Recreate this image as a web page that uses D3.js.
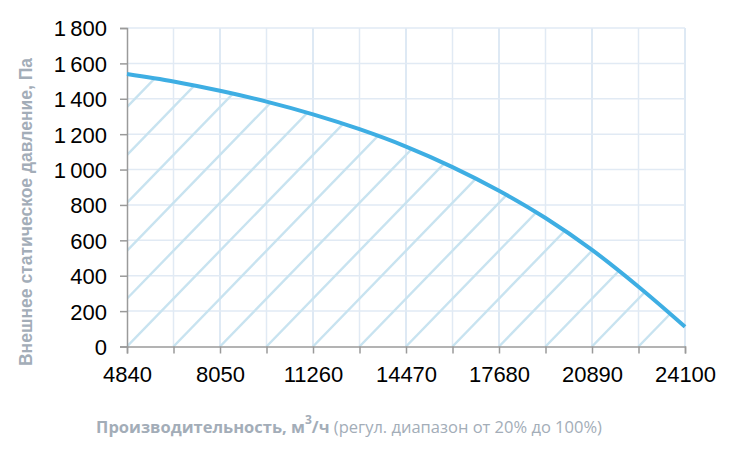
<!DOCTYPE html>
<html>
<head>
<meta charset="utf-8">
<script src="https://cdn.jsdelivr.net/npm/d3@7"></script>
<style>
  body { margin: 0; background: #fff; }
  svg { display: block; }
</style>
</head>
<body>
<div id="chart"></div>
<script>
// flow steps, m3/h
const flowTicks = [4840, 6445, 8050, 9655, 11260, 12865, 14470, 16075, 17680, 19285, 20890, 22495, 24100];
const flowLabels = [4840, 8050, 11260, 14470, 17680, 20890, 24100];
// external static pressure, Pa
const pressure = [1540, 1498, 1445, 1384, 1312, 1228, 1130, 1014, 880, 726, 546, 338, 112];
const pressureTicks = [0, 200, 400, 600, 800, 1000, 1200, 1400, 1600, 1800];

const W = 730, H = 456;
const mLeft = 127, mRight = 685, mTop = 28, mBottom = 346.5;

const svg = d3.select("#chart").append("svg")
    .attr("width", W)
    .attr("height", H);

const x = d3.scaleLinear().domain([4840, 24100]).range([mLeft, mRight]);
const y = d3.scaleLinear().domain([0, 1800]).range([mBottom, mTop]);

const fmt = d3.formatLocale({decimal: ",", thousands: "\u2009", grouping: [3], currency: ["", ""]}).format(",d");

// grid
svg.append("g").selectAll("line")
    .data(flowTicks.slice(1))
    .join("line")
    .attr("x1", d => x(d)).attr("x2", d => x(d))
    .attr("y1", mTop).attr("y2", mBottom)
    .attr("stroke", d => flowLabels.includes(d) ? "#d3e2f1" : "#e1eaf4")
    .attr("stroke-width", 1.5);

svg.append("g").selectAll("line")
    .data(pressureTicks.slice(1))
    .join("line")
    .attr("x1", mLeft).attr("x2", mRight)
    .attr("y1", d => y(d)).attr("y2", d => y(d))
    .attr("stroke", "#e1eaf4")
    .attr("stroke-width", 1.5);

// area under the curve, used as clip for hatching
const pts = flowTicks.map((f, i) => [f, pressure[i]]);
const curve = d3.curveCatmullRom.alpha(0.5);

const area = d3.area()
    .x(d => x(d[0]))
    .y0(y(0))
    .y1(d => y(d[1]))
    .curve(curve);

svg.append("clipPath")
    .attr("id", "under")
    .append("path")
    .attr("d", area(pts));

// diagonal hatching, one line per flow step
const step = flowTicks[1] - flowTicks[0];
const slope = 1.03;
const hatch = d3.range(-10, flowTicks.length).map(k => flowTicks[0] + k * step);
const rise = mBottom - mTop;

svg.append("g")
    .attr("clip-path", "url(#under)")
    .selectAll("line")
    .data(hatch)
    .join("line")
    .attr("x1", d => x(d))
    .attr("y1", mBottom)
    .attr("x2", d => x(d) + rise / slope)
    .attr("y2", mTop)
    .attr("stroke", "#c8e3f0")
    .attr("stroke-width", 2.4);

// axes
const yAxis = svg.append("g")
    .attr("transform", "translate(" + mLeft + ",0)")
    .call(d3.axisLeft(y).tickValues(pressureTicks).tickSize(7).tickPadding(13).tickFormat(fmt));

const xAxis = svg.append("g")
    .attr("transform", "translate(0," + mBottom + ")")
    .call(d3.axisBottom(x).tickValues(flowTicks).tickSize(7).tickPadding(13)
        .tickFormat(d => flowLabels.includes(d) ? d : ""));

[yAxis, xAxis].forEach(a => {
    a.select(".domain").attr("stroke", "#9a9a9a").attr("stroke-width", 1.5);
    a.selectAll(".tick line").attr("stroke", "#9a9a9a").attr("stroke-width", 1.5);
    a.selectAll(".tick text")
        .attr("fill", "#000")
        .style("font-family", "'Liberation Sans Narrow', 'Arial Narrow', sans-serif")
        .style("font-size", "22px");
});
yAxis.selectAll(".tick text").attr("dy", "0.36em");

// curve
const line = d3.line()
    .x(d => x(d[0]))
    .y(d => y(d[1]))
    .curve(curve);

svg.append("path")
    .attr("d", line(pts))
    .attr("fill", "none")
    .attr("stroke", "#3eaee3")
    .attr("stroke-width", 4);

// titles
svg.append("text")
    .attr("transform", "translate(32,212) rotate(-90)")
    .attr("text-anchor", "middle")
    .attr("fill", "#a3adb8")
    .style("font-family", "'Liberation Sans', Arial, sans-serif")
    .style("font-size", "17.5px")
    .style("font-weight", "bold")
    .text("Внешнее статическое давление, Па");

const xt = svg.append("text")
    .attr("x", 349)
    .attr("y", 433)
    .attr("text-anchor", "middle")
    .attr("fill", "#a3adb8")
    .style("font-family", "'Open Sans', sans-serif")
    .style("font-size", "16.5px");
xt.append("tspan").style("font-weight", "bold").text("Производительность, м");
xt.append("tspan").style("font-weight", "bold").style("font-size", "12px").attr("dy", "-9").text("3");
xt.append("tspan").style("font-weight", "bold").attr("dy", "9").text("/ч");
xt.append("tspan").text(" (регул. диапазон от 20% до 100%)");
</script>
</body>
</html>
